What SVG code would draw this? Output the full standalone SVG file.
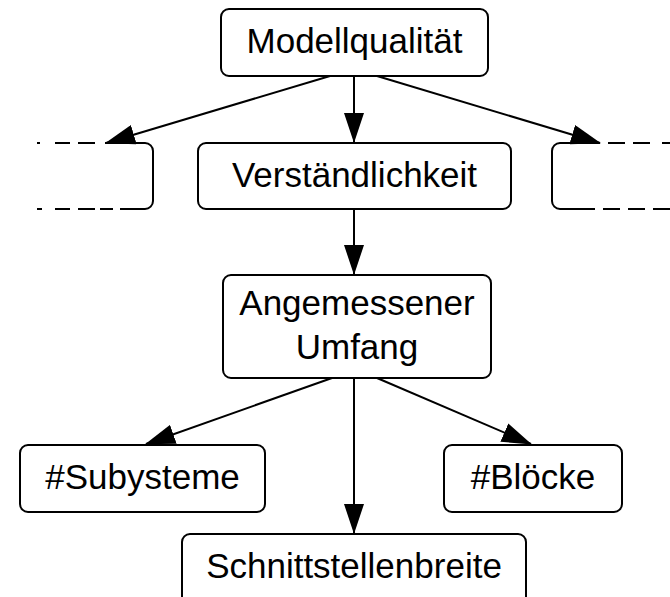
<svg xmlns="http://www.w3.org/2000/svg" width="670" height="597" viewBox="0 0 670 597">
  <defs>
    <marker id="head" markerUnits="userSpaceOnUse" markerWidth="30" markerHeight="20" refX="29" refY="10" orient="auto">
      <path d="M0,0 L30,10 L0,20 z" fill="#000"/>
    </marker>
    <style>
      .box { fill: #fff; stroke: #000; stroke-width: 2; }
      .part { fill: none; stroke: #000; stroke-width: 2; }
      .edge { fill: none; stroke: #000; stroke-width: 2; marker-end: url(#head); }
      text { font-family: "Liberation Sans", Arial, sans-serif; font-size: 35px; fill: #000; text-anchor: middle; }
    </style>
  </defs>

  <g id="connectors">
    <line class="edge" x1="330" y1="76" x2="106" y2="143"/>
    <line class="edge" x1="354" y1="76" x2="354" y2="142"/>
    <line class="edge" x1="377" y1="76" x2="600" y2="143"/>
    <line class="edge" x1="354" y1="209" x2="354" y2="274"/>
    <line class="edge" x1="332" y1="378" x2="146" y2="444"/>
    <line class="edge" x1="354" y1="378" x2="354" y2="533"/>
    <line class="edge" x1="377" y1="378" x2="531" y2="444"/>
  </g>

  <g id="modellqualitaet">
    <rect class="box" x="221" y="9" width="267" height="67" rx="8"/>
    <text x="354.5" y="53">Modellqualität</text>
  </g>

  <!-- partly shown sibling on the left: solid corner, dashed run-out -->
  <g id="links-offen">
    <path class="part" d="M37,143 H40 M55,143 H70 M78,143 H95 M105,143 H145 A8,8 0 0 1 153,151 V201 A8,8 0 0 1 145,209 H120 M113,209 H100 M95,209 H78 M70,209 H55 M42,209 H37"/>
  </g>

  <g id="verstaendlichkeit">
    <rect class="box" x="198" y="143" width="313" height="66" rx="8"/>
    <text x="354.5" y="187">Verständlichkeit</text>
  </g>

  <!-- partly shown sibling on the right -->
  <g id="rechts-offen">
    <path class="part" d="M600,143 H560 A8,8 0 0 0 552,151 V201 A8,8 0 0 0 560,209 H578 M578,209 H595 M603,209 H620 M628,209 H645 M653,209 H670 M608,143 H625 M633,143 H650 M662,143 H670"/>
  </g>

  <g id="angemessener-umfang">
    <rect class="box" x="223" y="275" width="268" height="103" rx="8"/>
    <text x="357" y="315">Angemessener</text>
    <text x="357" y="359">Umfang</text>
  </g>

  <g id="subsysteme">
    <rect class="box" x="20" y="445" width="245" height="67" rx="8"/>
    <text x="142.5" y="489">#Subysteme</text>
  </g>

  <g id="bloecke">
    <rect class="box" x="444" y="445" width="178" height="67" rx="8"/>
    <text x="533" y="489">#Blöcke</text>
  </g>

  <g id="schnittstellenbreite">
    <rect class="box" x="182" y="534" width="344" height="75" rx="8"/>
    <text x="354" y="578">Schnittstellenbreite</text>
  </g>
</svg>
